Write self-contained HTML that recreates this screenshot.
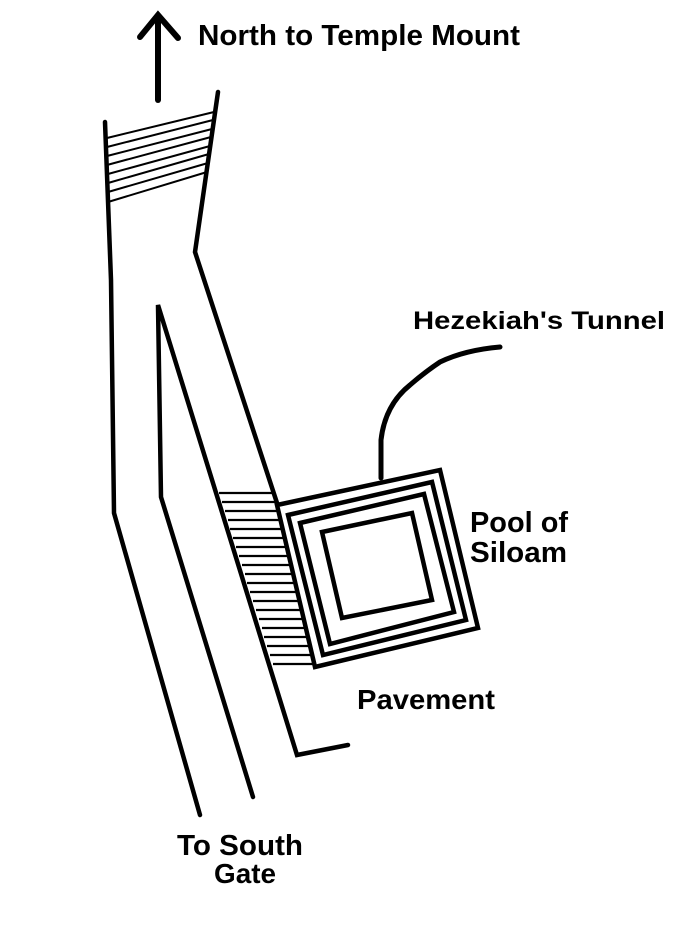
<!DOCTYPE html>
<html><head><meta charset="utf-8"><style>
html,body{margin:0;padding:0;background:#fff;}
svg{display:block;}
text{font-family:"Liberation Sans",sans-serif;font-weight:bold;fill:#000;}
</style></head><body>
<svg width="700" height="943" viewBox="0 0 700 943" xmlns="http://www.w3.org/2000/svg">
<g fill="none" stroke="#000" stroke-width="4.5" stroke-linecap="round" stroke-linejoin="miter">
<line x1="158" y1="100" x2="158" y2="17" stroke-width="6"/>
<polyline points="140,37 158,15 178,38" stroke-width="6"/>
<polyline points="105,122 111,280 114,513 200,815"/>
<polyline points="253,797 161,497 158,305 297,755 348,745"/>
<polyline points="218,92 195,252 277,503"/>
<path d="M381,478 L381,440 Q385,405 410,385 Q425,372 440,362 Q465,350 500,347" stroke-width="5"/>
<polygon points="277,505 440,470 478,628 315,667"/>
<polygon points="288,515 432,482 466,620 323,655"/>
<polygon points="300,523 424,494 454,612 330,644"/>
<polygon points="322,532 412,513 432,600 342,618"/>
</g>
<g stroke="#000" stroke-width="2">
<line x1="107" y1="138" x2="214" y2="112"/>
<line x1="107" y1="147" x2="213" y2="120"/>
<line x1="107" y1="156" x2="212" y2="129"/>
<line x1="107" y1="165" x2="211" y2="137"/>
<line x1="108" y1="174" x2="210" y2="146"/>
<line x1="108" y1="183" x2="209" y2="154"/>
<line x1="108" y1="192" x2="208" y2="163"/>
<line x1="108" y1="202" x2="207" y2="172"/>
</g>
<g stroke="#000" stroke-width="2.2">
<line x1="219" y1="493" x2="274" y2="493"/>
<line x1="222" y1="502" x2="277" y2="502"/>
<line x1="225" y1="511" x2="279" y2="511"/>
<line x1="228" y1="520" x2="281" y2="520"/>
<line x1="230" y1="529" x2="283" y2="529"/>
<line x1="233" y1="538" x2="285" y2="538"/>
<line x1="236" y1="547" x2="287" y2="547"/>
<line x1="239" y1="556" x2="289" y2="556"/>
<line x1="242" y1="565" x2="291" y2="565"/>
<line x1="245" y1="574" x2="293" y2="574"/>
<line x1="247" y1="583" x2="295" y2="583"/>
<line x1="250" y1="592" x2="298" y2="592"/>
<line x1="253" y1="601" x2="300" y2="601"/>
<line x1="256" y1="610" x2="302" y2="610"/>
<line x1="259" y1="619" x2="304" y2="619"/>
<line x1="262" y1="628" x2="306" y2="628"/>
<line x1="264" y1="637" x2="308" y2="637"/>
<line x1="267" y1="646" x2="310" y2="646"/>
<line x1="270" y1="655" x2="312" y2="655"/>
<line x1="273" y1="664" x2="314" y2="664"/>
</g>
<text x="198" y="45" font-size="29" textLength="322" lengthAdjust="spacingAndGlyphs">North to Temple Mount</text>
<text x="413" y="329" font-size="25" textLength="252" lengthAdjust="spacingAndGlyphs">Hezekiah's Tunnel</text>
<text x="470" y="532" font-size="29" textLength="98" lengthAdjust="spacingAndGlyphs">Pool of</text>
<text x="470" y="562" font-size="29" textLength="97" lengthAdjust="spacingAndGlyphs">Siloam</text>
<text x="357" y="709" font-size="28" textLength="138" lengthAdjust="spacingAndGlyphs">Pavement</text>
<text x="177" y="855" font-size="29" textLength="126" lengthAdjust="spacingAndGlyphs">To South</text>
<text x="214" y="883" font-size="28" textLength="62" lengthAdjust="spacingAndGlyphs">Gate</text>
</svg>
</body></html>
